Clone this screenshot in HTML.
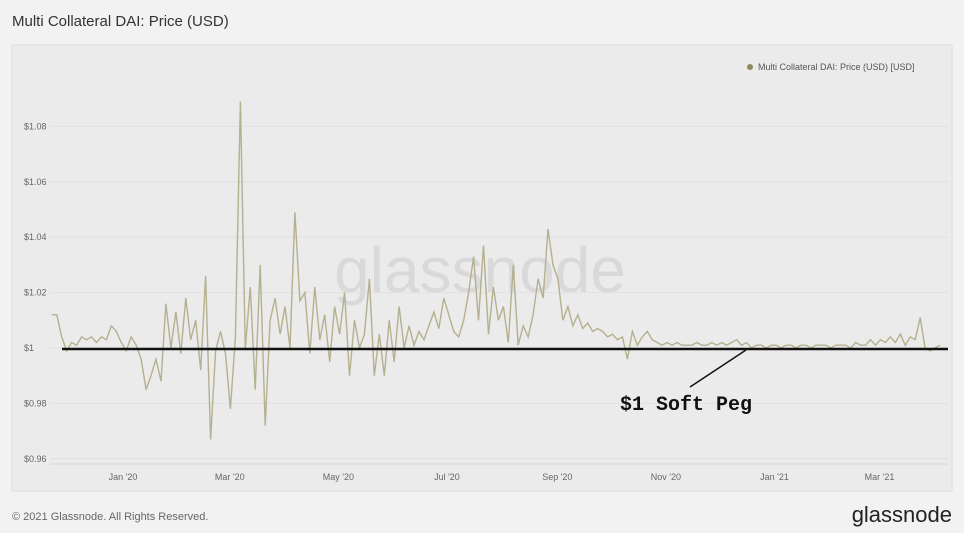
<!DOCTYPE html>
<html><head><meta charset="utf-8"><style>
body{margin:0;background:#f2f2f2;width:964px;height:528px;overflow:hidden;font-family:"Liberation Sans",sans-serif}
</style></head><body>
<svg width="964" height="528">
<rect x="0" y="0" width="964" height="528" fill="#f2f2f2"/>
<text x="12" y="26" font-size="15" fill="#333">Multi Collateral DAI: Price (USD)</text>
<rect x="12" y="45" width="940" height="446" fill="#ebebeb" stroke="#dcdcdc"/>
<text x="480" y="292" font-size="64" fill="#d9d9d9" text-anchor="middle">glassnode</text>
<circle cx="750" cy="67" r="3" fill="#8d8a60"/>
<text x="758" y="70" font-size="9" fill="#555">Multi Collateral DAI: Price (USD) [USD]</text>
<g id="yaxis"></g><g id="xaxis"></g>
<polyline id="series" fill="none" stroke="#b5b08e" stroke-width="1.4"/>
<line x1="62" y1="349" x2="948" y2="349" stroke="#111" stroke-width="2.5"/>
<line x1="690" y1="387" x2="746" y2="350" stroke="#111" stroke-width="1.5"/>
<text x="686" y="410" font-size="20" font-weight="bold" font-family="Liberation Mono,monospace" fill="#111" text-anchor="middle">$1 Soft Peg</text>
<text x="12" y="520" font-size="11" fill="#666">© 2021 Glassnode. All Rights Reserved.</text>
<text x="952" y="522" font-size="22" fill="#222" text-anchor="end">glassnode</text>
</svg>
<script>
const yTicks=[0.96,0.98,1.00,1.02,1.04,1.06,1.08];
const yTickLabels=["$0.96","$0.98","$1","$1.02","$1.04","$1.06","$1.08"];
const xTickLabels=["Jan '20","Mar '20","May '20","Jul '20","Sep '20","Nov '20","Jan '21","Mar '21"];
const xTickDays=[0,60,121,182,244,305,366,425];
const startDay=-40, endDay=459;
const prices=[1.012,1.012,1.004,0.999,1.002,1.001,1.004,1.003,1.004,1.002,1.004,1.003,1.008,
1.006,1.002,0.999,1.004,1.001,0.996,0.985,0.990,0.996,0.988,
1.016,1.000,1.013,0.998,1.018,1.003,1.010,0.992,1.026,0.967,
0.999,1.006,0.998,0.978,1.004,1.089,1.000,1.022,0.985,1.030,0.972,1.010,
1.018,1.005,1.015,1.000,1.049,1.017,1.020,0.998,1.022,1.003,
1.012,0.995,1.015,1.005,1.020,0.990,1.010,1.000,1.005,1.025,0.990,
1.005,0.990,1.010,0.995,1.015,1.000,1.008,1.001,1.006,1.003,
1.008,1.013,1.007,1.018,1.012,1.006,1.004,1.010,1.020,1.033,1.010,1.037,
1.005,1.022,1.010,1.015,1.002,1.030,1.001,1.008,1.004,1.012,1.025,1.018,
1.043,1.030,1.025,1.010,1.015,1.008,1.012,1.007,1.009,1.006,
1.007,1.006,1.004,1.005,1.003,1.004,0.996,1.006,1.001,1.004,
1.006,1.003,1.002,1.001,1.002,1.001,1.002,1.001,1.001,1.001,
1.002,1.001,1.001,1.002,1.001,1.002,1.001,1.002,1.003,1.001,
1.002,1.000,1.001,1.001,1.000,1.001,1.001,1.000,1.001,1.001,
1.000,1.001,1.001,1.000,1.001,1.001,1.001,1.000,1.001,
1.001,1.001,1.000,1.002,1.001,1.001,1.003,1.001,1.003,1.002,
1.004,1.002,1.005,1.001,1.004,1.003,1.011,1.000,0.999,1.000,1.001];
const NS="http://www.w3.org/2000/svg";
function yS(v){return 348-(v-1)*2770;}
function xS(d){return 123+d*1.78;}
const ya=document.getElementById('yaxis');
yTicks.forEach((t,i)=>{
 const l=document.createElementNS(NS,'line');
 l.setAttribute('x1',50);l.setAttribute('x2',948);l.setAttribute('y1',yS(t));l.setAttribute('y2',yS(t));
 l.setAttribute('stroke','#e0e0e0');
 
 
 ya.appendChild(l);
 const tx=document.createElementNS(NS,'text');
 tx.setAttribute('x',24);tx.setAttribute('y',yS(t)+3);tx.setAttribute('font-size','9');tx.setAttribute('fill','#666');
 tx.textContent=yTickLabels[i];
 
 
 ya.appendChild(tx);
});
const xa=document.getElementById('xaxis');
const ax=document.createElementNS(NS,'line');
ax.setAttribute('x1',50);ax.setAttribute('x2',948);ax.setAttribute('y1',464);ax.setAttribute('y2',464);ax.setAttribute('stroke','#d6d6d6');


xa.appendChild(ax);
xTickLabels.forEach((s,i)=>{
 const tx=document.createElementNS(NS,'text');
 tx.setAttribute('x',xS(xTickDays[i]));tx.setAttribute('y',480);tx.setAttribute('font-size','9');tx.setAttribute('fill','#666');tx.setAttribute('text-anchor','middle');
 tx.textContent=s;
 
 
 xa.appendChild(tx);
});
const n=prices.length;
document.getElementById('series').setAttribute('points',prices.map((v,i)=>{
 const d=startDay+(endDay-startDay)*i/(n-1);
 return xS(d).toFixed(1)+','+yS(v).toFixed(1);}).join(' '));
</script>
</body></html>
